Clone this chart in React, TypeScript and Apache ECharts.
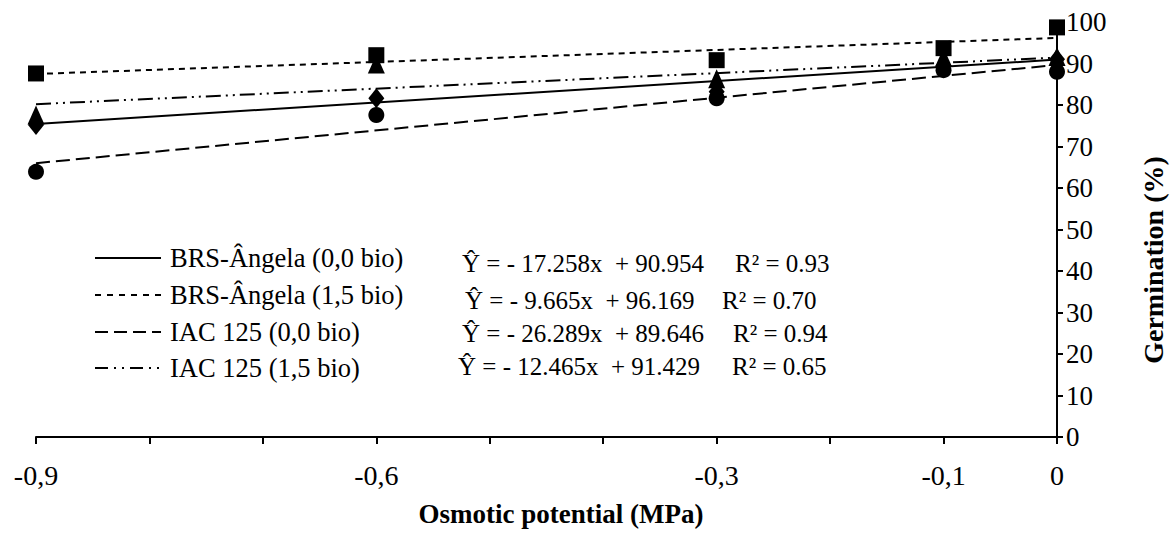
import React, { useEffect, useRef } from 'react';
import * as echarts from 'echarts';

// ---- data ----
const xValues = [-0.9, -0.6, -0.3, -0.1, 0];
const xTickLabels = ['-0,9', '-0,6', '-0,3', '-0,1', '0'];

const brs00 = [75.2, 81.6, 83.2, 89.5, 91.0];
const brs15 = [87.6, 92.0, 90.8, 93.7, 98.7];
const iac00 = [63.9, 77.6, 81.6, 88.4, 88.0];
const iac15 = [77.6, 89.9, 86.3, 91.5, 91.7];

const seriesNames = [
  'BRS-Ângela (0,0 bio)',
  'BRS-Ângela (1,5 bio)',
  'IAC 125 (0,0 bio)',
  'IAC 125 (1,5 bio)',
];
const slopes = [-17.258, -9.665, -26.289, -12.465];
const intercepts = [90.954, 96.169, 89.646, 91.429];
const equations = [
  'Ŷ = - 17.258x  + 90.954',
  'Ŷ = - 9.665x  + 96.169',
  'Ŷ = - 26.289x  + 89.646',
  'Ŷ = - 12.465x  + 91.429',
];
const r2Labels = ['R² = 0.93', 'R² = 0.70', 'R² = 0.94', 'R² = 0.65'];

const FONT = "'Liberation Serif', 'Times New Roman', serif";

export default function App() {
  const ref = useRef<HTMLDivElement>(null);

  useEffect(() => {
    if (!ref.current) return;
    const chart = echarts.init(ref.current, undefined, { renderer: 'svg' });

    const values = [brs00, brs15, iac00, iac15];
    const symbols = ['diamond', 'rect', 'circle', 'triangle'];
    const symbolSizes: any[] = [[16, 20], 16, 16, [17, 19]];
    const dashes: any[] = ['solid', [6, 5], [14, 6], [15, 5, 2, 5, 2, 5]];
    const legendDashes: any[] = [null, [6, 6], [13, 6], [13, 6, 2, 6, 2, 6]];
    const scatterZ = [4, 6, 5, 3];

    const series: any[] = [];
    values.forEach((vals, i) => {
      const xMin = xValues[0];
      const xMax = xValues[xValues.length - 1];
      series.push({
        type: 'line',
        name: seriesNames[i] + ' trend',
        data: [
          [xMin, intercepts[i] + slopes[i] * -xMin],
          [xMax, intercepts[i] + slopes[i] * -xMax],
        ],
        symbol: 'none',
        lineStyle: { color: '#000', width: 2, type: dashes[i] },
        z: 2,
        silent: true,
      });
    });
    values.forEach((vals, i) => {
      series.push({
        type: 'scatter',
        name: seriesNames[i],
        data: xValues.map((x, j) => [x, vals[j]]),
        symbol: symbols[i],
        symbolSize: symbolSizes[i],
        itemStyle: { color: '#000', opacity: 1 },
        z: scatterZ[i],
      });
    });

    const rowY = [258, 295, 332, 368];
    const eqY = [263, 300, 333, 366];
    const eqX = [462, 465, 462, 458];
    const r2X = [735, 722, 733, 732];
    const graphic: any[] = [];
    seriesNames.forEach((name, i) => {
      const lineStyle: any = { stroke: '#000', lineWidth: 2 };
      if (legendDashes[i]) lineStyle.lineDash = legendDashes[i];
      graphic.push({
        type: 'line',
        shape: { x1: 95, y1: rowY[i], x2: 161, y2: rowY[i] },
        style: lineStyle,
      });
      graphic.push({
        type: 'text',
        x: 170,
        y: rowY[i],
        style: {
          text: name,
          font: `26.5px ${FONT}`,
          fill: '#000',
          textAlign: 'left',
          textVerticalAlign: 'middle',
        },
      });
      graphic.push({
        type: 'text',
        x: eqX[i],
        y: eqY[i],
        style: {
          text: equations[i],
          font: `25px ${FONT}`,
          fill: '#000',
          textAlign: 'left',
          textVerticalAlign: 'middle',
        },
      });
      graphic.push({
        type: 'text',
        x: r2X[i],
        y: eqY[i],
        style: {
          text: r2Labels[i],
          font: `25px ${FONT}`,
          fill: '#000',
          textAlign: 'left',
          textVerticalAlign: 'middle',
        },
      });
    });
    graphic.push({
      type: 'text',
      x: 561,
      y: 514,
      style: {
        text: 'Osmotic potential (MPa)',
        font: `bold 27px ${FONT}`,
        fill: '#000',
        textAlign: 'center',
        textVerticalAlign: 'middle',
      },
    });
    graphic.push({
      type: 'text',
      x: 1153,
      y: 260,
      rotation: Math.PI / 2,
      style: {
        text: 'Germination (%)',
        font: `bold 28px ${FONT}`,
        fill: '#000',
        textAlign: 'center',
        textVerticalAlign: 'middle',
      },
    });

    chart.setOption({
      animation: false,
      backgroundColor: '#fff',
      grid: { left: 36, right: 116, top: 22, bottom: 96, containLabel: false },
      xAxis: {
        type: 'value',
        min: -0.9,
        max: 0,
        interval: 0.1,
        axisLine: { show: true, onZero: false, lineStyle: { color: '#000', width: 2 } },
        axisTick: { show: true, length: 7, lineStyle: { color: '#000', width: 2 } },
        splitLine: { show: false },
        axisLabel: {
          color: '#000',
          fontSize: 28,
          fontFamily: FONT,
          margin: 24,
          showMinLabel: true,
          showMaxLabel: true,
          formatter: (v: number) => {
            const r = Math.round(v * 10) / 10;
            const idx = xValues.findIndex((x) => Math.abs(x - r) < 1e-6);
            return idx >= 0 ? xTickLabels[idx] : '';
          },
        },
      },
      yAxis: {
        type: 'value',
        position: 'right',
        min: 0,
        max: 100,
        interval: 10,
        axisLine: { show: true, onZero: false, lineStyle: { color: '#000', width: 2 } },
        axisTick: { show: true, length: 6, lineStyle: { color: '#000', width: 2 } },
        splitLine: { show: false },
        axisLabel: {
          color: '#000',
          fontSize: 27,
          fontFamily: FONT,
          margin: 9,
        },
      },
      series,
      graphic,
    });

    return () => chart.dispose();
  }, []);

  return (
    <div
      ref={ref}
      style={{ position: 'fixed', left: 0, top: 0, width: 1173, height: 533, background: '#fff' }}
    />
  );
}
